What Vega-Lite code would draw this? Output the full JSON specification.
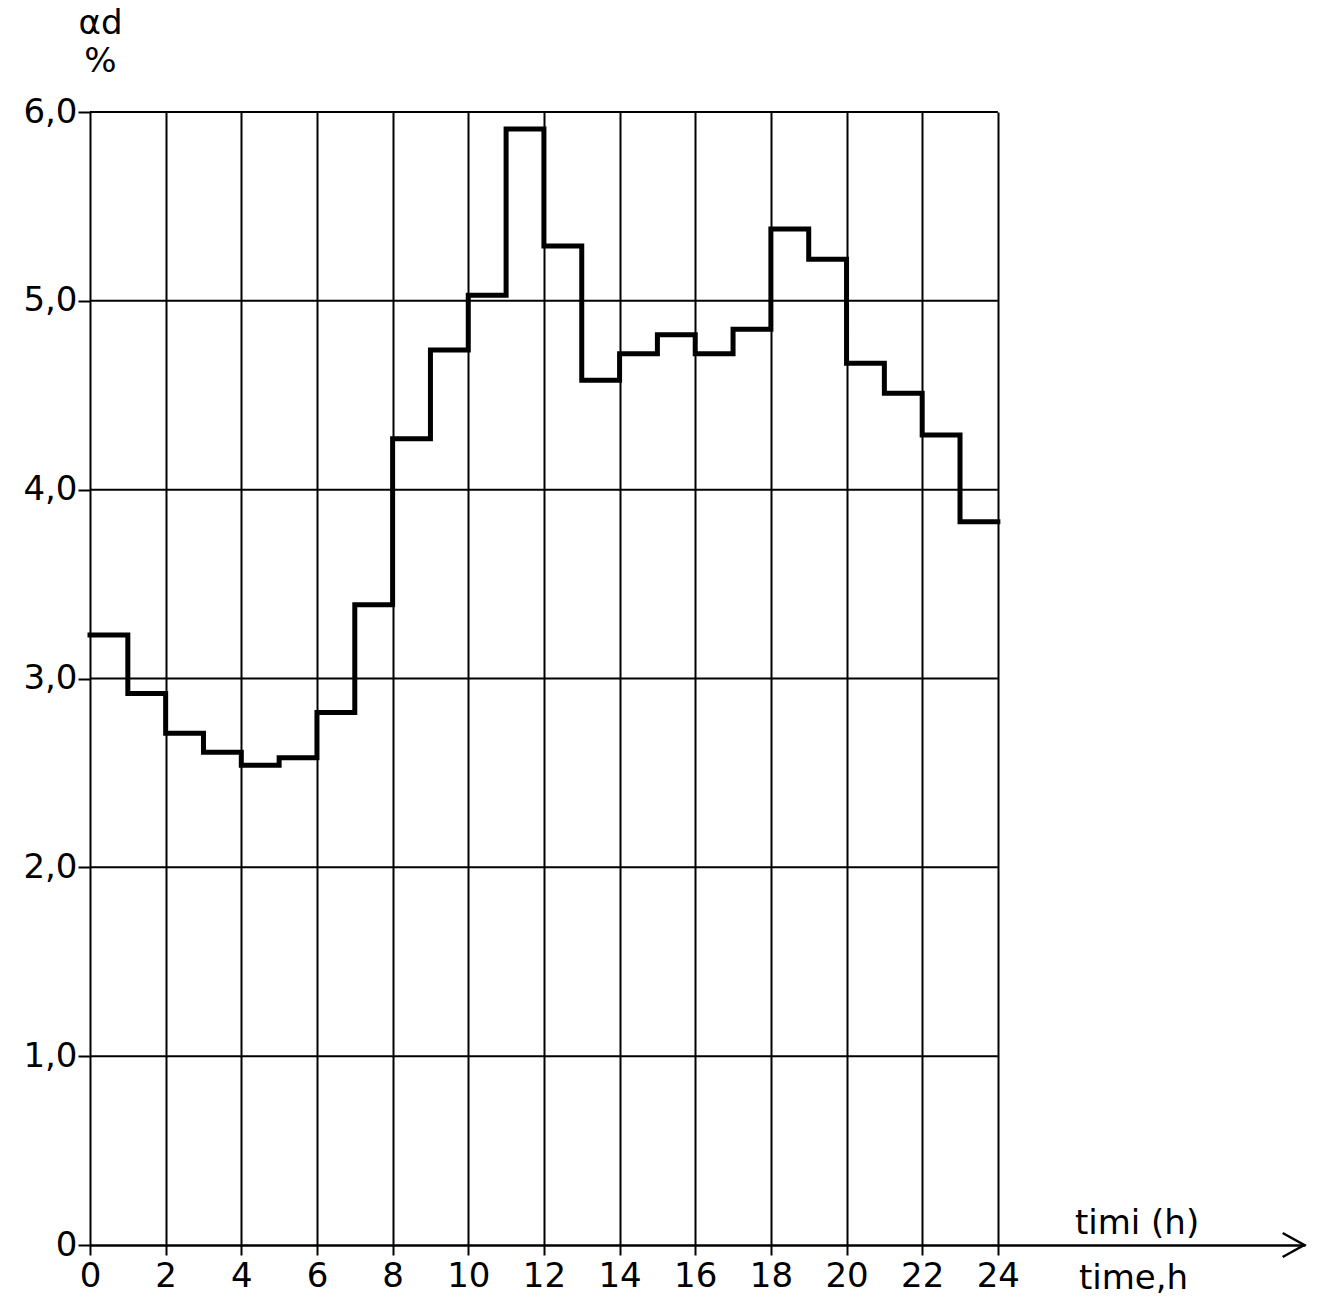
{
  "$schema": "https://vega.github.io/schema/vega-lite/v6.json",
  "autosize": "none",
  "width": 1215,
  "height": 1133,
  "padding": {"left": 90, "top": 112, "right": 14, "bottom": 55},
  "background": "white",
  "config": {"view": {"stroke": null}, "font": "DejaVu Sans"},
  "datasets": {
    "hourly": [
      {"hour": 0, "alpha": 3.23}, {"hour": 1, "alpha": 2.92}, {"hour": 2, "alpha": 2.71},
      {"hour": 3, "alpha": 2.61}, {"hour": 4, "alpha": 2.54}, {"hour": 5, "alpha": 2.58},
      {"hour": 6, "alpha": 2.82}, {"hour": 7, "alpha": 3.39}, {"hour": 8, "alpha": 4.27},
      {"hour": 9, "alpha": 4.74}, {"hour": 10, "alpha": 5.03}, {"hour": 11, "alpha": 5.91},
      {"hour": 12, "alpha": 5.29}, {"hour": 13, "alpha": 4.58}, {"hour": 14, "alpha": 4.72},
      {"hour": 15, "alpha": 4.82}, {"hour": 16, "alpha": 4.72}, {"hour": 17, "alpha": 4.85},
      {"hour": 18, "alpha": 5.38}, {"hour": 19, "alpha": 5.22}, {"hour": 20, "alpha": 4.67},
      {"hour": 21, "alpha": 4.51}, {"hour": 22, "alpha": 4.29}, {"hour": 23, "alpha": 3.83},
      {"hour": 24, "alpha": 3.83}
    ],
    "levels": [{"level": 1}, {"level": 2}, {"level": 3}, {"level": 4}, {"level": 5}, {"level": 6}]
  },
  "layer": [
    {
      "data": {"name": "levels"},
      "mark": {"type": "rule", "color": "black", "strokeWidth": 2},
      "encoding": {
        "y": {"field": "level", "type": "quantitative", "scale": {"domain": [0, 6], "nice": false, "zero": true},
          "axis": {
            "values": [0, 1, 2, 3, 4, 5, 6],
            "labelExpr": "datum.value == 0 ? '0' : replace(format(datum.value, '.1f'), '.', ',')",
            "labelFontSize": 34, "labelColor": "black", "labelPadding": 1,
            "domain": false, "grid": false,
            "ticks": true, "tickSize": 12, "tickColor": "black", "tickWidth": 2,
            "title": ["αd", "%"], "titleAngle": 0, "titleAlign": "center", "titleBaseline": "top",
            "titleX": 10, "titleY": -106, "titleFontSize": 34, "titleFontWeight": "normal",
            "titleLineHeight": 38, "titleColor": "black"
          }},
        "x": {"datum": 0, "type": "quantitative", "scale": {"domain": [0, 32.12], "nice": false, "zero": true},
          "axis": {
            "values": [0, 2, 4, 6, 8, 10, 12, 14, 16, 18, 20, 22, 24],
            "labelFontSize": 34, "labelColor": "black", "labelPadding": 4, "labelFlush": false,
            "domain": true, "domainColor": "black", "domainWidth": 2.5,
            "ticks": true, "tickSize": 10, "tickColor": "black", "tickWidth": 2,
            "grid": true, "gridColor": "black", "gridWidth": 2, "gridOpacity": 1,
            "title": "time,h", "titleAnchor": null, "titleX": 1043, "titleY": 16, "titleAlign": "center",
            "titleBaseline": "top", "titleFontSize": 34, "titleFontWeight": "normal", "titleColor": "black"
          }},
        "x2": {"datum": 24}
      }
    },
    {
      "data": {"name": "hourly"},
      "mark": {"type": "line", "interpolate": "step-after", "color": "black", "strokeWidth": 5, "strokeJoin": "miter", "strokeCap": "square"},
      "encoding": {
        "x": {"field": "hour", "type": "quantitative"},
        "y": {"field": "alpha", "type": "quantitative"}
      }
    },
    {
      "data": {"values": [{"label": "timi (h)"}]},
      "mark": {"type": "text", "fontSize": 34, "color": "black", "baseline": "middle", "align": "center", "dy": -21},
      "encoding": {
        "x": {"datum": 27.68, "type": "quantitative"},
        "y": {"datum": 0, "type": "quantitative"},
        "text": {"field": "label"}
      }
    },
    {
      "data": {"values": [{"a": 1}]},
      "mark": {"type": "point", "shape": "M -1.8 -1 L 0 0 L -1.8 1", "filled": false, "stroke": "black", "strokeWidth": 2.5, "size": 576, "opacity": 1},
      "encoding": {
        "x": {"datum": 32.1, "type": "quantitative"},
        "y": {"datum": 0, "type": "quantitative"}
      }
    }
  ]
}
